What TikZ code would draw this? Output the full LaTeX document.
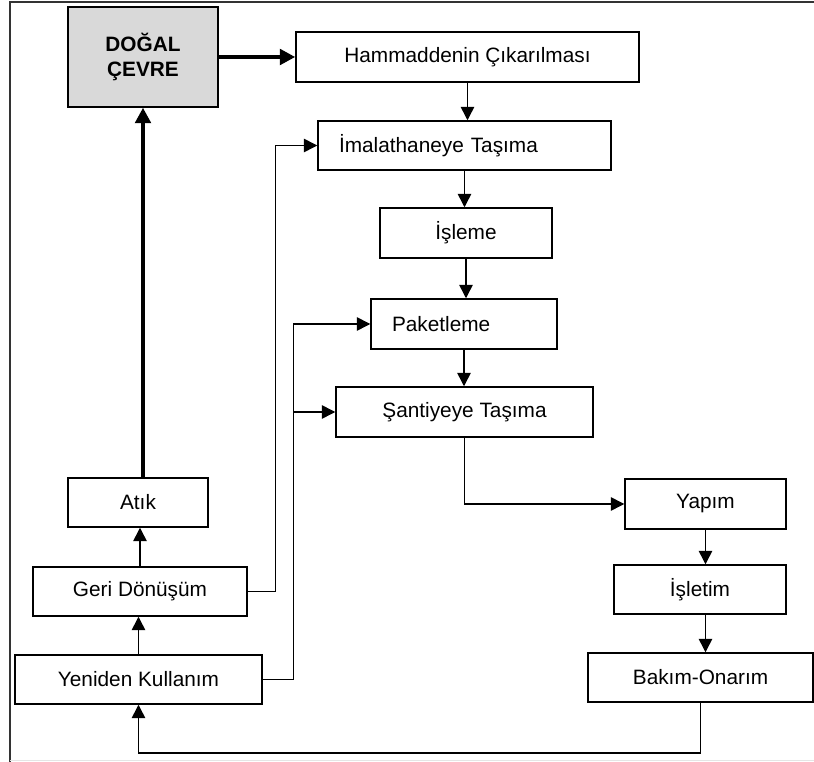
\documentclass[tikz,border=0pt]{standalone}
\usepackage{fontspec}
\setmainfont{Liberation Sans}
\usetikzlibrary{arrows.meta}

\tikzset{every picture/.style={line width=0.75pt}}
\tikzset{
  stage/.style={draw, line width=1.1pt, minimum height=37.5pt, inner sep=0pt, font=\fontsize{15.6}{19}\selectfont},
  padded/.style={align=left, inner xsep=15.75pt},
  link/.style={line width=1.1pt, -{Triangle[length=10pt,width=10pt]}},
  heavy/.style={line width=3pt, -{Triangle[length=11.5pt,width=11.5pt]}}
}

\begin{document}
\begin{tikzpicture}[x=0.75pt,y=0.75pt,yscale=-1,xscale=1]
\useasboundingbox (0,0) rectangle (814,762);

%Frame
\draw [line width=1.5pt, color=black!80] (9.5,762) -- (9.5,2.5) -- (814,2.5) ;
\draw [line width=1pt, color=black!10] (10,760.5) -- (814,760.5) ;

%Shape: Rectangle
\node [stage, fill=black!15, minimum width=112.5pt, minimum height=75pt, align=center, font=\fontsize{15.6}{19}\selectfont\bfseries] (dogal) at (143,57) {DOĞAL\\ÇEVRE};
%Shape: Rectangle
\node [stage, minimum width=257.25pt] (hammadde) at (467.5,57) {Hammaddenin Çıkarılması};
%Shape: Rectangle
\node [stage, padded, minimum width=219.75pt, text width=188.25pt, minimum height=36.75pt] (imalat) at (464.5,145.5) {İmalathaneye Taşıma};
%Shape: Rectangle
\node [stage, minimum width=129pt] (isleme) at (466,233) {İşleme};
%Shape: Rectangle
\node [stage, padded, minimum width=139.5pt, text width=108pt] (paket) at (464,324) {Paketleme};
%Shape: Rectangle
\node [stage, minimum width=192.75pt] (santiye) at (464.5,412) {Şantiyeye Taşıma};
%Shape: Rectangle
\node [stage, minimum width=120.75pt] (yapim) at (705.5,504) {Yapım};
%Shape: Rectangle
\node [stage, minimum width=129pt, minimum height=36.75pt] (isletim) at (700,589.5) {İşletim};
%Shape: Rectangle
\node [stage, minimum width=168.75pt, minimum height=36.75pt] (bakim) at (700.5,677.5) {Bakım-Onarım};
%Shape: Rectangle
\node [stage, minimum width=105pt, minimum height=36.75pt] (atik) at (138,502.5) {Atık};
%Shape: Rectangle
\node [stage, minimum width=160.5pt, minimum height=36.75pt] (geri) at (140,591.5) {Geri Dönüşüm};
%Shape: Rectangle
\node [stage, minimum width=185.25pt, minimum height=36.75pt] (yeniden) at (138.5,679.5) {Yeniden Kullanım};

\coordinate (floor) at (0,753);

%Straight Lines
\draw [heavy] (dogal.east |- hammadde.west) -- (hammadde.west) ;
\draw [heavy] (dogal.south |- atik.north) -- (dogal.south) ;
\draw [link] (hammadde.south) -- (hammadde.south |- imalat.north) ;
\draw [link] (imalat.south) -- (imalat.south |- isleme.north) ;
\draw [link] (isleme.south) -- (isleme.south |- paket.north) ;
\draw [link] (paket.south) -- (paket.south |- santiye.north) ;
\draw [link] (santiye.south) |- (yapim.west) ;
\draw [link] (yapim.south) -- (yapim.south |- isletim.north) ;
\draw [link] (yapim.south |- isletim.south) -- (yapim.south |- bakim.north) ;
\draw [link] (bakim.south) -- (bakim.south |- floor) -| (yeniden.south) ;
\draw [link] (yeniden.north) -- (yeniden.north |- geri.south) ;
\draw [link] (geri.north) -- (geri.north |- atik.south) ;
\draw [link] (geri.east) -- ++(28,0) |- (imalat.west) ;
\draw [link] (yeniden.east) -- ++(31,0) coordinate (riser) |- (paket.west) ;
\draw [link] (riser |- santiye.west) -- (santiye.west) ;

\end{tikzpicture}
\end{document}
